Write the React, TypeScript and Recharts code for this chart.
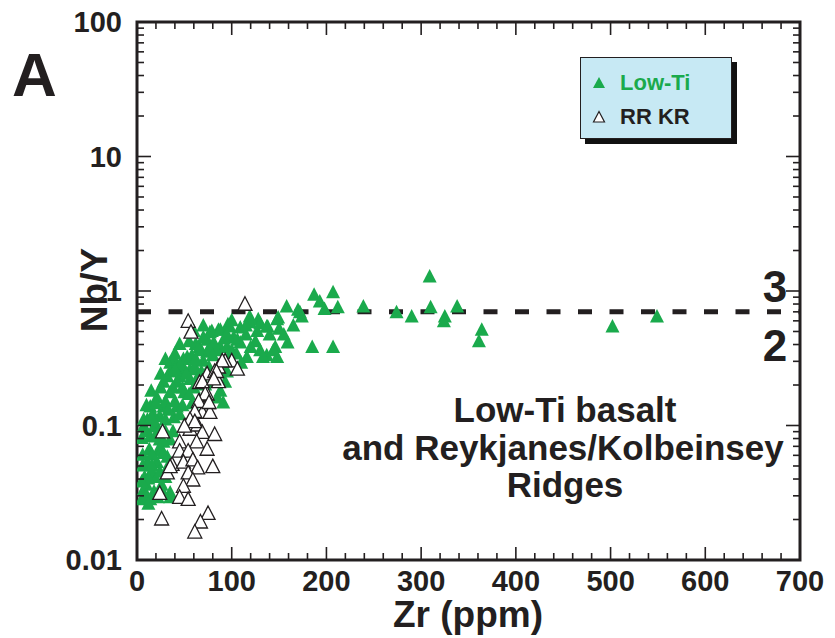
import { ScatterChart, Scatter, XAxis, YAxis, ReferenceLine, ReferenceArea } from 'recharts';

// [Zr (ppm), Nb/Y]
const LOW_TI: [number, number][] = [
  [187, 0.93], [207, 0.97], [193, 0.83], [198, 0.73], [212, 0.75], [174, 0.64], [239, 0.76],
  [274, 0.69], [290, 0.64], [309, 1.27], [310, 0.75], [325, 0.64], [324, 0.59], [338, 0.76],
  [364, 0.51], [361, 0.42], [185, 0.38], [207, 0.38], [502, 0.54], [549, 0.64], [172, 0.69],
  [158, 0.76], [170, 0.72], [149, 0.63], [128, 0.61], [119, 0.58], [138, 0.54], [109, 0.53],
  [96, 0.56], [86, 0.51], [127, 0.5], [77, 0.49], [106, 0.43], [109, 0.41], [159, 0.41],
  [146, 0.38], [137, 0.33], [66, 0.38], [74, 0.35], [88, 0.38], [116, 0.32], [148, 0.32],
  [79, 0.5], [88, 0.51], [98, 0.54], [119, 0.64], [137, 0.54], [148, 0.61], [77, 0.38],
  [95, 0.38], [49, 0.31], [67, 0.36], [56, 0.26], [35, 0.29], [32, 0.23], [42, 0.21],
  [74, 0.43], [84, 0.36], [98, 0.32], [133, 0.32], [144, 0.36], [80, 0.21],
  [39, 0.31], [53, 0.32], [62, 0.4], [81, 0.41], [35, 0.25], [50, 0.26], [61, 0.27],
  [28, 0.21], [45, 0.23], [56, 0.22], [21, 0.16], [35, 0.175], [50, 0.175], [88, 0.18],
  [14, 0.137], [28, 0.137], [42, 0.137], [11, 0.11], [24, 0.116], [39, 0.114], [7, 0.098],
  [21, 0.098], [76, 0.27], [84, 0.21], [93, 0.21],
  [18, 0.098], [30, 0.09], [14, 0.082], [24, 0.078], [35, 0.078], [13, 0.066], [23, 0.066],
  [11, 0.053], [21, 0.053], [32, 0.058], [8, 0.041], [19, 0.041], [30, 0.041], [7, 0.033],
  [18, 0.032], [35, 0.0315], [14, 0.028], [5, 0.028], [35, 0.029],
  [91, 0.147], [85, 0.16], [45, 0.28], [58, 0.33], [70, 0.3], [63, 0.22], [48, 0.19],
  [30, 0.15], [17, 0.12], [26, 0.065], [15, 0.045], [10, 0.036], [40, 0.15], [55, 0.17],
  [102, 0.45], [115, 0.47], [92, 0.44], [125, 0.42], [155, 0.47], [165, 0.55],
  [60, 0.5], [70, 0.55], [100, 0.6], [115, 0.55], [130, 0.57], [140, 0.47], [150, 0.52],
  [45, 0.4], [55, 0.42], [70, 0.45], [95, 0.47], [120, 0.38], [130, 0.36], [100, 0.36],
  [30, 0.31], [40, 0.34], [62, 0.31], [80, 0.33], [90, 0.28], [105, 0.34], [110, 0.29],
  [25, 0.24], [40, 0.26], [52, 0.24], [68, 0.25], [95, 0.25],
  [15, 0.18], [25, 0.19], [38, 0.19], [60, 0.19], [72, 0.2],
  [10, 0.14], [20, 0.145], [33, 0.13], [48, 0.14], [58, 0.145],
  [7, 0.11], [15, 0.115], [30, 0.11], [45, 0.12],
  [5, 0.08], [10, 0.09], [20, 0.085], [28, 0.075], [38, 0.09],
  [6, 0.06], [16, 0.06], [28, 0.062], [33, 0.05], [6, 0.05], [16, 0.05],
  [12, 0.04], [24, 0.045], [26, 0.036], [5, 0.038],
  [10, 0.03], [22, 0.029], [28, 0.031], [12, 0.026],
];

const RR_KR: [number, number][] = [
  [114, 0.79], [100, 0.3], [93, 0.3], [106, 0.26], [86, 0.27], [74, 0.24], [82, 0.25],
  [54, 0.59], [57, 0.49], [66, 0.207], [86, 0.21], [74, 0.17], [66, 0.15], [75, 0.147],
  [61, 0.124], [69, 0.124], [77, 0.124], [27, 0.089], [51, 0.098], [56, 0.093], [64, 0.1],
  [69, 0.088], [82, 0.085], [45, 0.075], [63, 0.075], [45, 0.064], [54, 0.064], [74, 0.066],
  [37, 0.051], [49, 0.053], [59, 0.055], [64, 0.048], [80, 0.049], [32, 0.044], [54, 0.044],
  [59, 0.039], [49, 0.035], [24, 0.031], [45, 0.029], [54, 0.028], [26, 0.02], [75, 0.022],
  [67, 0.019], [61, 0.016], [35, 0.049], [90, 0.3], [84, 0.25], [69, 0.21], [81, 0.22],
  [72, 0.17], [65, 0.15], [76, 0.147], [61, 0.126], [56, 0.11], [61, 0.106], [50, 0.098],
];

const X_TICKS = Array.from({ length: 36 }, (_, i) => i * 20);
const X_MAJOR = [0, 100, 200, 300, 400, 500, 600, 700];
const Y_DECADES = [0.01, 0.1, 1, 10];
const Y_TICKS = [...Y_DECADES.flatMap((d) => [1, 2, 3, 4, 5, 6, 7, 8, 9].map((m) => +(d * m).toPrecision(3))), 100];
const Y_MAJOR = [0.01, 0.1, 1, 10, 100];
const Y_LABEL: Record<number, string> = { 0.01: '0.01', 0.1: '0.1', 1: '1', 10: '10', 100: '100' };

const BOUNDARY = 0.7;

const GREEN = '#1aaa4c';
const INK = '#231f20';
const NUM_FONT = '"Liberation Sans Narrow", "Liberation Sans", Arial, sans-serif';
const FONT = '"Liberation Sans", Arial, sans-serif';

const lowTiData = LOW_TI.map(([zr, r]) => ({ zr, r }));
const rrkrData = RR_KR.map(([zr, r]) => ({ zr, r }));

function Tri({ cx, cy, fill, stroke }: any) {
  if (cx == null || cy == null) return null;
  return (
    <path
      d={`M${cx},${cy - 8} L${cx + 7},${cy + 5.5} L${cx - 7},${cy + 5.5} Z`}
      fill={fill}
      stroke={stroke}
      strokeWidth={stroke === 'none' ? 0 : 1.3}
      strokeLinejoin="miter"
    />
  );
}

const isMajorX = (v: number) => X_MAJOR.includes(v);
const isMajorY = (v: number) => Y_MAJOR.some((m) => Math.abs(m - v) < 1e-9);

function BottomTick({ x, y, payload }: any) {
  const v = payload.value;
  const major = isMajorX(v);
  return (
    <g>
      <line x1={x} y1={y} x2={x} y2={y - (major ? 13 : 7)} stroke={INK} strokeWidth={1.6} />
      {major && (
        <text x={x} y={y + 31} textAnchor="middle" fontFamily={NUM_FONT} fontWeight={700} fontSize={29} fill={INK}>
          {v}
        </text>
      )}
    </g>
  );
}

function TopTick({ x, y, payload }: any) {
  const major = isMajorX(payload.value);
  return <line x1={x} y1={y} x2={x} y2={y + (major ? 13 : 7)} stroke={INK} strokeWidth={1.6} />;
}

function LeftTick({ x, y, payload }: any) {
  const v = payload.value;
  const major = isMajorY(v);
  return (
    <g>
      <line x1={x} y1={y} x2={x + (major ? 14 : 7)} y2={y} stroke={INK} strokeWidth={1.6} />
      {major && (
        <text x={x - 15} y={y + 10} textAnchor="end" fontFamily={NUM_FONT} fontWeight={700} fontSize={29} fill={INK}>
          {Y_LABEL[v] ?? v}
        </text>
      )}
    </g>
  );
}

function RightTick({ x, y, payload }: any) {
  const major = isMajorY(payload.value);
  return <line x1={x} y1={y} x2={x - (major ? 14 : 7)} y2={y} stroke={INK} strokeWidth={1.6} />;
}

function LegendBox() {
  return (
    <div style={{ position: 'absolute', left: 580, top: 57, width: 158, height: 88 }}>
      <div style={{ position: 'absolute', left: 5, top: 5, width: 152, height: 82, background: '#111' }} />
      <div
        style={{
          position: 'absolute', left: 0, top: 0, width: 150, height: 80,
          background: '#c7e9f4', border: `1px solid ${INK}`, fontFamily: FONT, fontWeight: 700, fontSize: 22,
        }}
      >
        <div style={{ position: 'absolute', left: 11, top: 12, display: 'flex', alignItems: 'center', color: GREEN }}>
          <svg width={14} height={14}><path d="M7,1 L13,12 L1,12 Z" fill={GREEN} /></svg>
          <span style={{ marginLeft: 14 }}>Low-Ti</span>
        </div>
        <div style={{ position: 'absolute', left: 11, top: 46, display: 'flex', alignItems: 'center', color: INK }}>
          <svg width={14} height={14}><path d="M7,1.5 L12.5,12 L1.5,12 Z" fill="#fff" stroke={INK} strokeWidth={1.2} /></svg>
          <span style={{ marginLeft: 14 }}>RR KR</span>
        </div>
      </div>
    </div>
  );
}

export default function App() {
  return (
    <div style={{ position: 'absolute', left: 0, top: 0, width: 835, height: 638, background: '#fff' }}>
      <ScatterChart width={835} height={638} margin={{ top: 2, right: 0, bottom: 0, left: 0 }}>
        <XAxis
          xAxisId="b" dataKey="zr" type="number" domain={[0, 700]} allowDataOverflow
          ticks={X_TICKS} interval={0} orientation="bottom" height={78}
          axisLine={false} tickLine={false} tickSize={0} tickMargin={0} tick={<BottomTick />}
        />
        <XAxis
          xAxisId="t" dataKey="zr" type="number" domain={[0, 700]} allowDataOverflow
          ticks={X_TICKS} interval={0} orientation="top" height={20}
          axisLine={false} tickLine={false} tickSize={0} tickMargin={0} tick={<TopTick />}
        />
        <YAxis
          yAxisId="l" dataKey="r" type="number" scale="log" domain={[0.01, 100]} allowDataOverflow
          ticks={Y_TICKS} interval={0} width={137}
          axisLine={false} tickLine={false} tickSize={0} tickMargin={0} tick={<LeftTick />}
        />
        <YAxis
          yAxisId="rt" dataKey="r" type="number" scale="log" domain={[0.01, 100]} allowDataOverflow
          ticks={Y_TICKS} interval={0} width={35} orientation="right"
          axisLine={false} tickLine={false} tickSize={0} tickMargin={0} tick={<RightTick />}
        />
        <Scatter
          name="Low-Ti" data={lowTiData} xAxisId="b" yAxisId="l" isAnimationActive={false}
          shape={(p: any) => <Tri {...p} fill={GREEN} stroke="none" />}
        />
        <Scatter
          name="RR KR" data={rrkrData} xAxisId="t" yAxisId="rt" isAnimationActive={false}
          shape={(p: any) => <Tri {...p} fill="#fff" stroke={INK} />}
        />
        <ReferenceLine
          xAxisId="b" yAxisId="l" y={BOUNDARY} stroke={INK} strokeWidth={5} strokeDasharray="14 17.5"
        />
        <ReferenceArea
          xAxisId="b" yAxisId="l" x1={0} x2={700} y1={0.01} y2={100}
          fill="none" stroke={INK} strokeWidth={3} fillOpacity={0}
        />
      </ScatterChart>
      <LegendBox />
      <svg width={835} height={638} style={{ position: 'absolute', left: 0, top: 0, pointerEvents: 'none' }}>
        <g fontFamily={FONT} fontWeight={700} fill={INK}>
          <text x={12} y={96} fontSize={62}>A</text>
          <text x={775} y={302} fontSize={44} textAnchor="middle">3</text>
          <text x={775} y={361} fontSize={44} textAnchor="middle">2</text>
          <text x={565} y={422} fontSize={35} textAnchor="middle">Low-Ti basalt</text>
          <text x={563} y={460} fontSize={35} textAnchor="middle">and Reykjanes/Kolbeinsey</text>
          <text x={565} y={497} fontSize={35} textAnchor="middle">Ridges</text>
          <text transform="translate(107,290) rotate(-90)" fontSize={37} textAnchor="middle">Nb/Y</text>
          <text x={468} y={627} fontSize={37} textAnchor="middle">Zr (ppm)</text>
        </g>
      </svg>
    </div>
  );
}
